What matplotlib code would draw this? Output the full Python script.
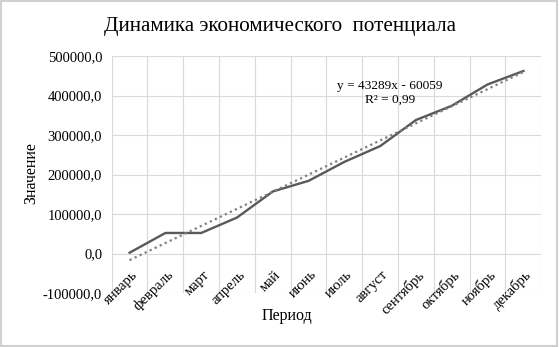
import numpy as np
import matplotlib
matplotlib.use("Agg")
import matplotlib.pyplot as plt
from matplotlib.patches import Rectangle
from matplotlib.ticker import FuncFormatter

months = ["январь", "февраль", "март", "апрель", "май", "июнь", "июль",
          "август", "сентябрь", "октябрь", "ноябрь", "декабрь"]
values = [2000, 52000, 52000, 91000, 157000, 184000, 232000, 272000,
          338000, 374000, 428000, 462000]
trend_slope = 43289
trend_intercept = -60059
trend_label = "y = 43289x - 60059\nR² = 0,99"
title = "Динамика экономического  потенциала"

plt.rcParams['font.family'] = ['Liberation Serif', 'DejaVu Serif']

fig = plt.figure(figsize=(5.59, 3.47), dpi=100)
ax = fig.add_axes([0.1998, 0.1556, 0.7685, 0.683])

x = np.arange(1, len(months) + 1)
ax.plot(x, values, color='#595959', lw=1.7, zorder=3)
trend = trend_slope * x + trend_intercept
ax.plot(x, trend, color='#7f7f7f', lw=1.6, ls=(0, (1, 1.5)), zorder=4)

ax.set_xlim(0.5, 12.5)
ax.set_ylim(-100000, 500000)
ax.set_yticks(np.arange(-100000, 500001, 100000))
ax.yaxis.set_major_formatter(FuncFormatter(lambda v, p: f"{v:.1f}".replace('.', ',')))
ax.set_xticks([])
ax.set_xticks(np.arange(0.5, 12.6, 1), minor=True)
ax.tick_params(axis='y', labelsize=10.5, length=0, pad=6.8)
ax.tick_params(axis='x', which='both', length=0, labelbottom=False)
ax.grid(False)
ax.yaxis.grid(True, color='#d9d9d9', lw=0.8)
ax.xaxis.grid(True, which='minor', color='#d9d9d9', lw=0.8)
for s in ax.spines.values():
    s.set_visible(False)

# category labels sit next to the zero line (Excel axis crossing at 0)
for xi, m in zip(x, months):
    ax.annotate(m, xy=(xi, 0), xytext=(1.0, -10.5), textcoords='offset points',
                rotation=45, ha='right', va='top', rotation_mode='anchor',
                fontsize=10.5, zorder=5)

ax.text(8.27, 407000, trend_label, fontsize=9.6, ha='center', va='center',
        linespacing=1.2, zorder=5)

fig.text(287 / 559, 1 - 316 / 347, "Период", fontsize=11.5, ha='center', va='center')
fig.text(31 / 559, 1 - 173 / 347, "Значение", fontsize=11.5, ha='center', va='center',
         rotation=90)
fig.text(0.5, 1 - 27 / 347, title, fontsize=15.2, ha='center', va='center')

fig.patches.append(Rectangle((0.002, 0.003), 0.994, 0.994, transform=fig.transFigure,
                             fill=False, edgecolor='#d0d0d0', lw=1.5))

fig.savefig("out.png", dpi=100)
